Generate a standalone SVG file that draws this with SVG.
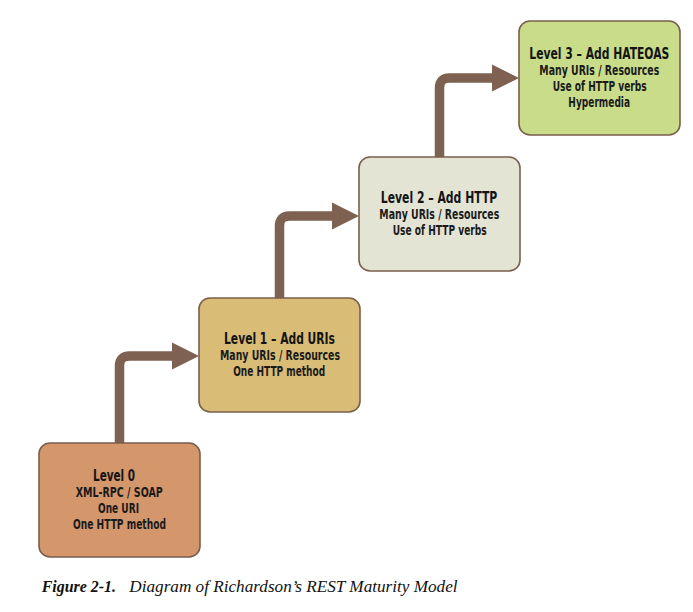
<svg xmlns="http://www.w3.org/2000/svg" width="693" height="612" viewBox="0 0 693 612">
<style>
.box{stroke:#7a5e4e;stroke-width:1.6}
.t{font-family:"Liberation Sans Narrow","DejaVu Sans Condensed","Liberation Sans",Arial,sans-serif;font-stretch:condensed;font-weight:bold;font-size:15.5px;fill:#141414;text-anchor:middle}
.s{font-family:"Liberation Sans Narrow","DejaVu Sans Condensed","Liberation Sans",Arial,sans-serif;font-stretch:condensed;font-weight:bold;font-size:13.2px;fill:#1a1a1a;text-anchor:middle}
.arr{fill:none;stroke:#7e6151;stroke-width:9.5;marker-end:url(#head)}
.cap{font-family:"Liberation Serif","Times New Roman",serif;font-style:italic;font-size:17px;fill:#111}
</style>
<defs>
<marker id="head" markerUnits="userSpaceOnUse" markerWidth="28" markerHeight="28" refX="0" refY="13.5" orient="auto" overflow="visible">
<path d="M0,0 L27,13.5 L0,27 Z" fill="#7e6151"/>
</marker>
</defs>
<rect width="693" height="612" fill="#ffffff"/>
<g id="connectors">
<path class="arr" d="M119.5,443 V366 Q119.5,356 129.5,356 H172"/>
<path class="arr" d="M279.5,298 V226 Q279.5,216 289.5,216 H332"/>
<path class="arr" d="M439.5,157 V88 Q439.5,78 449.5,78 H492"/>
</g>
<g id="level0">
<rect class="box" x="39" y="443" width="161" height="114" rx="11" fill="#d4966b"/>
<text class="t" x="114" y="481.3" textLength="42" lengthAdjust="spacingAndGlyphs">Level 0</text>
<text class="s" x="119.3" y="497.3" textLength="87" lengthAdjust="spacingAndGlyphs">XML-RPC / SOAP</text>
<text class="s" x="118.5" y="513.3" textLength="41" lengthAdjust="spacingAndGlyphs">One URI</text>
<text class="s" x="119.5" y="529.3" textLength="93" lengthAdjust="spacingAndGlyphs">One HTTP method</text>
</g>
<g id="level1">
<rect class="box" x="199" y="298" width="161" height="114" rx="11" fill="#d9bc76"/>
<text class="t" x="279.5" y="344.3" textLength="111" lengthAdjust="spacingAndGlyphs">Level 1 – Add URIs</text>
<text class="s" x="280" y="360.3" textLength="120" lengthAdjust="spacingAndGlyphs">Many URIs / Resources</text>
<text class="s" x="279.2" y="376" textLength="92" lengthAdjust="spacingAndGlyphs">One HTTP method</text>
</g>
<g id="level2">
<rect class="box" x="359" y="157" width="161" height="114" rx="11" fill="#e4e4d5"/>
<text class="t" x="439" y="202.7" textLength="116.5" lengthAdjust="spacingAndGlyphs">Level 2 – Add HTTP</text>
<text class="s" x="439.3" y="219" textLength="120" lengthAdjust="spacingAndGlyphs">Many URIs / Resources</text>
<text class="s" x="439.7" y="235" textLength="94" lengthAdjust="spacingAndGlyphs">Use of HTTP verbs</text>
</g>
<g id="level3">
<rect class="box" x="519" y="21" width="161" height="114" rx="11" fill="#c8dc8a"/>
<text class="t" transform="translate(599.3,59.3) scale(0.86,1)" x="0" y="0" textLength="162.8" lengthAdjust="spacingAndGlyphs">Level 3 – Add HATEOAS</text>
<text class="s" x="599.3" y="75" textLength="120" lengthAdjust="spacingAndGlyphs">Many URIs / Resources</text>
<text class="s" x="599.7" y="91" textLength="94" lengthAdjust="spacingAndGlyphs">Use of HTTP verbs</text>
<text class="s" x="599.2" y="106.5" textLength="61.7" lengthAdjust="spacingAndGlyphs">Hypermedia</text>
</g>
<g id="caption">
<text class="cap" x="41.7" y="591.5"><tspan font-weight="bold" textLength="74.3" lengthAdjust="spacingAndGlyphs">Figure 2-1.</tspan><tspan x="129.3" textLength="328.3" lengthAdjust="spacingAndGlyphs">Diagram of Richardson’s REST Maturity Model</tspan></text>
</g>
</svg>
